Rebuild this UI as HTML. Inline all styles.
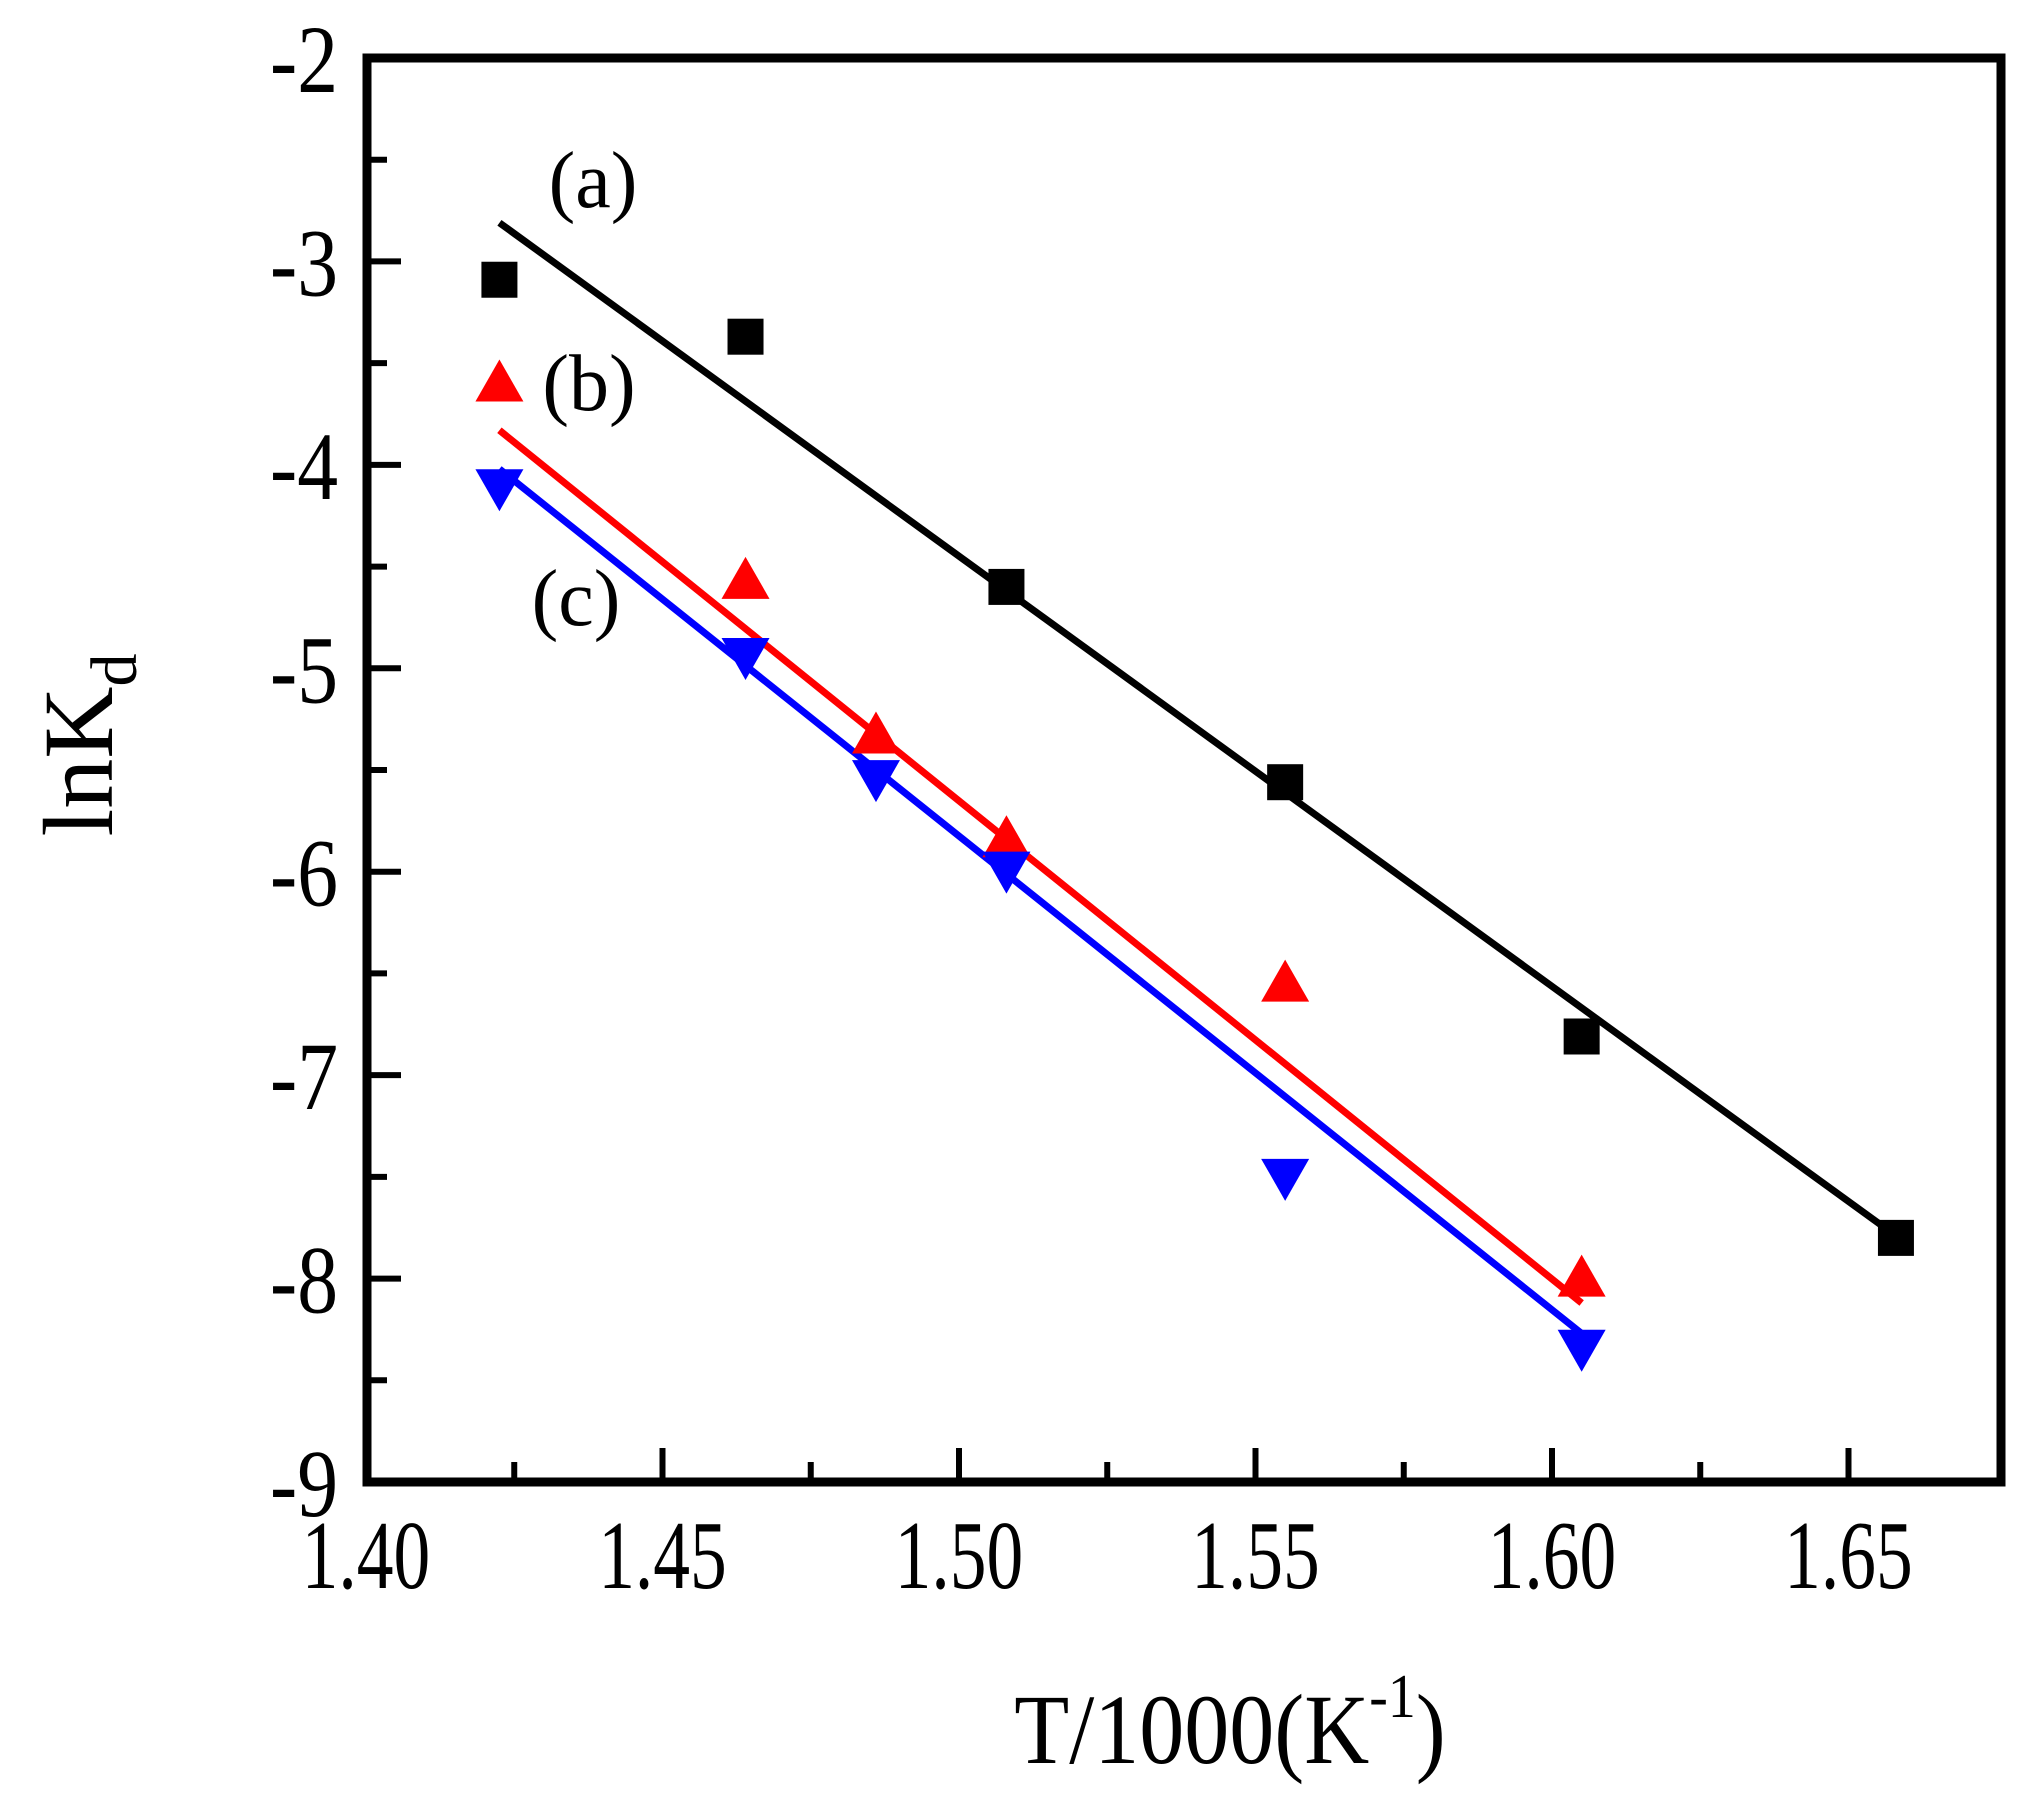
<!DOCTYPE html>
<html><head><meta charset="utf-8"><style>
html,body{margin:0;padding:0;background:#fff;}
svg{display:block;font-family:"Liberation Serif",serif;}
</style></head><body>
<svg id="chart" width="2030" height="1801" viewBox="0 0 2030 1801" xmlns="http://www.w3.org/2000/svg">
<g id="plot"></g>
<text transform="translate(112,745) rotate(-90)" text-anchor="middle" font-size="100">lnK<tspan font-size="66" dy="24">d</tspan></text>
<text x="1230" y="1763" text-anchor="middle" font-size="100" transform="translate(1230,0) scale(0.9,1) translate(-1230,0)">T/1000(K<tspan font-size="62" dy="-46">-1</tspan><tspan dy="46">)</tspan></text>
<text x="593" y="207" text-anchor="middle" font-size="80">(a)</text>
<text x="589" y="410" text-anchor="middle" font-size="80">(b)</text>
<text x="576" y="625" text-anchor="middle" font-size="80">(c)</text>
</svg>
<script>
const xTicks=[1.40,1.45,1.50,1.55,1.60,1.65];
const xTickLabels=["1.40","1.45","1.50","1.55","1.60","1.65"];
const yTicks=[-2,-3,-4,-5,-6,-7,-8,-9];
const yTickLabels=["-2","-3","-4","-5","-6","-7","-8","-9"];
const xA=[1.4225,1.464,1.508,1.555,1.605,1.658];
const yA=[-3.09,-3.37,-4.60,-5.56,-6.81,-7.80];
const fitA=[[1.4225,-2.81],[1.658,-7.79]];
const xB=[1.4225,1.464,1.486,1.508,1.555,1.605];
const yB=[-3.61,-4.58,-5.34,-5.85,-6.56,-8.01];
const fitB=[[1.4225,-3.83],[1.605,-8.12]];
const xC=[1.4225,1.464,1.486,1.508,1.555,1.605];
const yC=[-4.10,-4.93,-5.53,-5.98,-7.49,-8.33];
const fitC=[[1.4225,-4.02],[1.605,-8.27]];

const L=367,R=2001,T=58,B=1482;
const X=v=>366+(v-1.40)/0.05*296.5;
const Y=v=>T+(-2-v)*(B-T)/7;
const NS="http://www.w3.org/2000/svg";
const g=document.getElementById('plot');
function mk(tag,attrs){const e=document.createElementNS(NS,tag);for(const k in attrs)e.setAttribute(k,attrs[k]);g.appendChild(e);return e;}

for(let i=0;i<xTicks.length;i++){
  const x=X(xTicks[i]);
  const t=mk('line',{x1:x,x2:x,y1:B,y2:B-34,stroke:'#000','stroke-width':6});
  
  
  const m=X(xTicks[i]+0.025);
  if(m<R-5){const tm=mk('line',{x1:m,x2:m,y1:B,y2:B-20,stroke:'#000','stroke-width':6});
  
  }
  const lb=mk('text',{x:x,y:1588,'text-anchor':'middle','font-size':98,transform:`translate(${x},0) scale(0.75,1) translate(${-x},0)`});
  lb.textContent=xTickLabels[i];
  
  
}
for(let i=0;i<yTicks.length;i++){
  const y=Y(yTicks[i]);
  const t=mk('line',{x1:L,x2:L+34,y1:y,y2:y,stroke:'#000','stroke-width':6});
  
  
  if(yTicks[i]>-9){const ym=Y(yTicks[i]-0.5);
  const tm=mk('line',{x1:L,x2:L+20,y1:ym,y2:ym,stroke:'#000','stroke-width':6});
  
  }
  const lb=mk('text',{x:338,y:y+34,'text-anchor':'end','font-size':96,transform:`translate(338,0) scale(0.85,1) translate(-338,0)`});
  lb.textContent=yTickLabels[i];
  
  
}
const fr=mk('rect',{x:L,y:T,width:R-L,height:B-T,fill:'none',stroke:'#000','stroke-width':9});



function fit(f,color,name){
  const l=mk('line',{x1:X(f[0][0]),y1:Y(f[0][1]),x2:X(f[1][0]),y2:Y(f[1][1]),stroke:color,'stroke-width':7});
  
  
}
fit(fitA,'#000','fit-line-a');
fit(fitB,'#f00','fit-line-b');
fit(fitC,'#00f','fit-line-c');

for(let i=0;i<xA.length;i++){
  const x=X(xA[i]),y=Y(yA[i]);
  const p=mk('rect',{x:x-18,y:y-18,width:36,height:36,fill:'#000'});
  
  
}
for(let i=0;i<xB.length;i++){
  const x=X(xB[i]),y=Y(yB[i]);
  const p=mk('polygon',{points:`${x},${y-26} ${x+24},${y+16} ${x-24},${y+16}`,fill:'#f00'});
  
  
}
for(let i=0;i<xC.length;i++){
  const x=X(xC[i]),y=Y(yC[i]);
  const p=mk('polygon',{points:`${x},${y+26} ${x+24},${y-16} ${x-24},${y-16}`,fill:'#00f'});
  
  
}
</script>
</body></html>
